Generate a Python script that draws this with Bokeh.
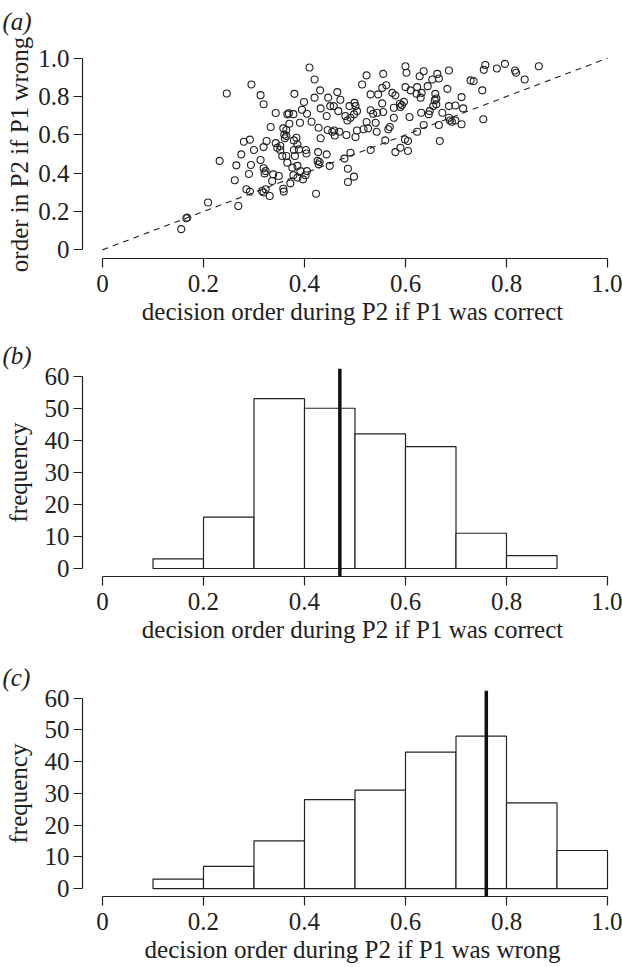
from bokeh.plotting import figure
from bokeh.layouts import column
from bokeh.models import Range1d, FixedTicker, Span, Title
from bokeh.embed import file_html
from bokeh.resources import INLINE

FONT = "Liberation Serif"
INK = "#222222"
FS = "25px"

# ---- data ----
x_correct = [
    0.410, 0.420, 0.295, 0.246, 0.313, 0.319, 0.380, 0.431, 0.420, 0.447,
    0.465, 0.471, 0.399, 0.451, 0.458, 0.467, 0.489, 0.432, 0.395, 0.405,
    0.343, 0.366, 0.369, 0.378, 0.444, 0.481, 0.485, 0.333, 0.391, 0.414,
    0.428, 0.370, 0.358, 0.364, 0.360, 0.361, 0.364, 0.384, 0.379, 0.446,
    0.455, 0.459, 0.469, 0.460, 0.483, 0.432, 0.280, 0.292, 0.325, 0.343,
    0.352, 0.386,
    0.232, 0.275, 0.300, 0.319, 0.265, 0.294, 0.290, 0.262, 0.313, 0.319,
    0.323, 0.321, 0.338, 0.349, 0.336, 0.346, 0.352, 0.356, 0.364, 0.366,
    0.379, 0.381, 0.376, 0.386, 0.392, 0.378, 0.386, 0.397, 0.402, 0.405,
    0.389, 0.403, 0.404, 0.427, 0.444, 0.426, 0.430, 0.428, 0.450, 0.479,
    0.486, 0.486, 0.372, 0.358, 0.359, 0.285, 0.292, 0.316, 0.323, 0.319,
    0.331, 0.423, 0.209, 0.269, 0.166, 0.168, 0.156,
    0.491, 0.531, 0.580, 0.590, 0.605, 0.498,
    0.600, 0.602, 0.523, 0.556, 0.636, 0.628, 0.663, 0.653, 0.666, 0.686,
    0.758, 0.755, 0.781, 0.797, 0.817, 0.819, 0.836, 0.864, 0.729, 0.735,
    0.752, 0.514, 0.554, 0.562, 0.600, 0.623, 0.644, 0.610, 0.622, 0.632,
    0.630, 0.659, 0.661, 0.683, 0.711, 0.531, 0.546, 0.574, 0.580, 0.499,
    0.501, 0.554, 0.589, 0.593, 0.590, 0.597, 0.577, 0.658, 0.661, 0.655,
    0.686, 0.699, 0.714, 0.531, 0.536, 0.544, 0.556, 0.504, 0.498, 0.491,
    0.577, 0.608, 0.631, 0.648, 0.646, 0.673, 0.523, 0.541, 0.504, 0.517,
    0.526, 0.543, 0.566, 0.569, 0.501, 0.560, 0.599, 0.605, 0.623, 0.636,
    0.666, 0.668, 0.686, 0.688, 0.692, 0.699, 0.711, 0.754,
]
y_wrong = [
    0.951, 0.889, 0.863, 0.816, 0.807, 0.760, 0.814, 0.832, 0.794, 0.794,
    0.823, 0.783, 0.771, 0.750, 0.750, 0.724, 0.750, 0.738, 0.731, 0.710,
    0.714, 0.707, 0.712, 0.708, 0.698, 0.698, 0.675, 0.641, 0.663, 0.668,
    0.637, 0.658, 0.634, 0.625, 0.602, 0.582, 0.594, 0.585, 0.571, 0.625,
    0.616, 0.623, 0.616, 0.597, 0.599, 0.582, 0.564, 0.575, 0.568, 0.557,
    0.542, 0.550,
    0.464, 0.498, 0.521, 0.536, 0.441, 0.443, 0.396, 0.363, 0.469, 0.426,
    0.411, 0.399, 0.394, 0.385, 0.359, 0.533, 0.521, 0.490, 0.490, 0.455,
    0.521, 0.490, 0.429, 0.438, 0.411, 0.389, 0.377, 0.368, 0.389, 0.411,
    0.524, 0.521, 0.503, 0.510, 0.498, 0.464, 0.458, 0.446, 0.438, 0.476,
    0.423, 0.354, 0.347, 0.319, 0.304, 0.316, 0.304, 0.307, 0.316, 0.299,
    0.281, 0.293, 0.247, 0.229, 0.165, 0.168, 0.108,
    0.507, 0.521, 0.510, 0.533, 0.516, 0.382,
    0.958, 0.924, 0.910, 0.918, 0.932, 0.906, 0.918, 0.889, 0.894, 0.936,
    0.964, 0.939, 0.946, 0.970, 0.936, 0.924, 0.889, 0.958, 0.884, 0.880,
    0.832, 0.863, 0.845, 0.859, 0.849, 0.849, 0.854, 0.832, 0.814, 0.819,
    0.794, 0.814, 0.790, 0.840, 0.797, 0.811, 0.811, 0.819, 0.806, 0.767,
    0.750, 0.764, 0.762, 0.755, 0.745, 0.772, 0.741, 0.781, 0.759, 0.750,
    0.750, 0.753, 0.738, 0.728, 0.710, 0.715, 0.719, 0.724, 0.707, 0.689,
    0.689, 0.693, 0.715, 0.724, 0.707, 0.715, 0.667, 0.663, 0.623, 0.629,
    0.634, 0.616, 0.629, 0.641, 0.589, 0.571, 0.576, 0.568, 0.616, 0.651,
    0.651, 0.568, 0.689, 0.675, 0.668, 0.675, 0.655, 0.681,
]
identity_line = [0.0, 1.0]

bins_correct_left = [0.1, 0.2, 0.3, 0.4, 0.5, 0.6, 0.7, 0.8]
freq_correct = [3, 16, 53, 50, 42, 38, 11, 4]
mean_correct = 0.47

bins_wrong_left = [0.1, 0.2, 0.3, 0.4, 0.5, 0.6, 0.7, 0.8, 0.9]
freq_wrong = [3, 7, 15, 28, 31, 43, 48, 27, 12]
mean_wrong = 0.76

bin_width = 0.1
x_ticks = [0, 0.2, 0.4, 0.6, 0.8, 1.0]
y_ticks_a = [0, 0.2, 0.4, 0.6, 0.8, 1.0]
freq_ticks = [0, 10, 20, 30, 40, 50, 60]

XLAB_CORRECT = "decision order during P2 if P1 was correct"
XLAB_WRONG = "decision order during P2 if P1 was wrong"
YLAB_A = "order in P2 if P1 wrong"
YLAB_HIST = "frequency"

W = 622
X_RANGE = (-0.0396, 1.0297)
LEFT = 82


def style_axes(p, ybounds, yticks, ylab_standoff):
    p.grid.visible = False
    p.outline_line_color = None
    for ax in (p.xaxis[0], p.yaxis[0]):
        ax.axis_line_color = INK
        ax.axis_line_width = 1.2
        ax.major_tick_line_color = INK
        ax.major_tick_line_width = 1.2
        ax.major_tick_in = 0
        ax.major_tick_out = 9
        ax.minor_tick_line_color = None
        ax.major_label_text_font = FONT
        ax.major_label_text_font_size = FS
        ax.major_label_text_color = INK
        ax.axis_label_text_font = FONT
        ax.axis_label_text_font_size = FS
        ax.axis_label_text_font_style = "normal"
        ax.axis_label_text_color = INK
    xa = p.xaxis[0]
    xa.ticker = FixedTicker(ticks=x_ticks)
    xa.bounds = (0, 1)
    xa.major_label_overrides = {0: "0", 1: "1.0"}
    xa.major_label_standoff = 7
    xa.axis_label_standoff = 3
    ya = p.yaxis[0]
    ya.ticker = FixedTicker(ticks=yticks)
    ya.bounds = ybounds
    ya.major_label_standoff = 4
    ya.axis_label_standoff = ylab_standoff


def panel_tag(p, letter):
    p.add_layout(Title(text="(" + letter + ")", text_font=FONT, text_font_size=FS,
                       text_font_style="italic", text_color=INK, align="left",
                       offset=-(LEFT - 2), standoff=0), "above")


# ---- (a) scatter ----
pa = figure(width=W, height=330, x_range=Range1d(*X_RANGE), y_range=Range1d(-0.045, 1.04),
            output_backend="svg", toolbar_location=None, title_location=None,
            min_border_left=LEFT, min_border_right=0, min_border_top=50, min_border_bottom=72)
pa.line(identity_line, identity_line, line_color=INK, line_width=1.1, line_dash="6 5")
pa.scatter(x_correct, y_wrong, marker="circle", size=7, fill_color=None,
           line_color=INK, line_width=1.1)
pa.xaxis.axis_label = XLAB_CORRECT
pa.yaxis.axis_label = YLAB_A
style_axes(pa, (0, 1), y_ticks_a, 2)
pa.yaxis[0].major_label_overrides = {0: "0", 1: "1.0"}
pa.add_layout(Title(text=" ", text_font_size="12px", standoff=0), "above")
panel_tag(pa, "a")


def hist_fig(height, btop, bbottom, lefts, freqs, mean, xlab, letter):
    p = figure(width=W, height=height, x_range=Range1d(*X_RANGE), y_range=Range1d(-2.5, 62.4),
               output_backend="svg", toolbar_location=None, title_location=None,
               min_border_left=LEFT, min_border_right=0, min_border_top=btop,
               min_border_bottom=bbottom)
    rights = [l + bin_width for l in lefts]
    p.quad(left=lefts, right=rights, top=freqs, bottom=0, fill_color="white",
           line_color=INK, line_width=1.2)
    p.add_layout(Span(location=mean, dimension="height", line_color="#111111", line_width=3.5))
    p.xaxis.axis_label = xlab
    p.yaxis.axis_label = YLAB_HIST
    style_axes(p, (0, 60), freq_ticks, 10)
    panel_tag(p, letter)
    return p


pb = hist_fig(320, 38, 74, bins_correct_left, freq_correct, mean_correct, XLAB_CORRECT, "b")
pc = hist_fig(315, 40, 68, bins_wrong_left, freq_wrong, mean_wrong, XLAB_WRONG, "c")

layout = column(pa, pb, pc, spacing=0)
open("out.html", "w").write(file_html(layout, INLINE))
